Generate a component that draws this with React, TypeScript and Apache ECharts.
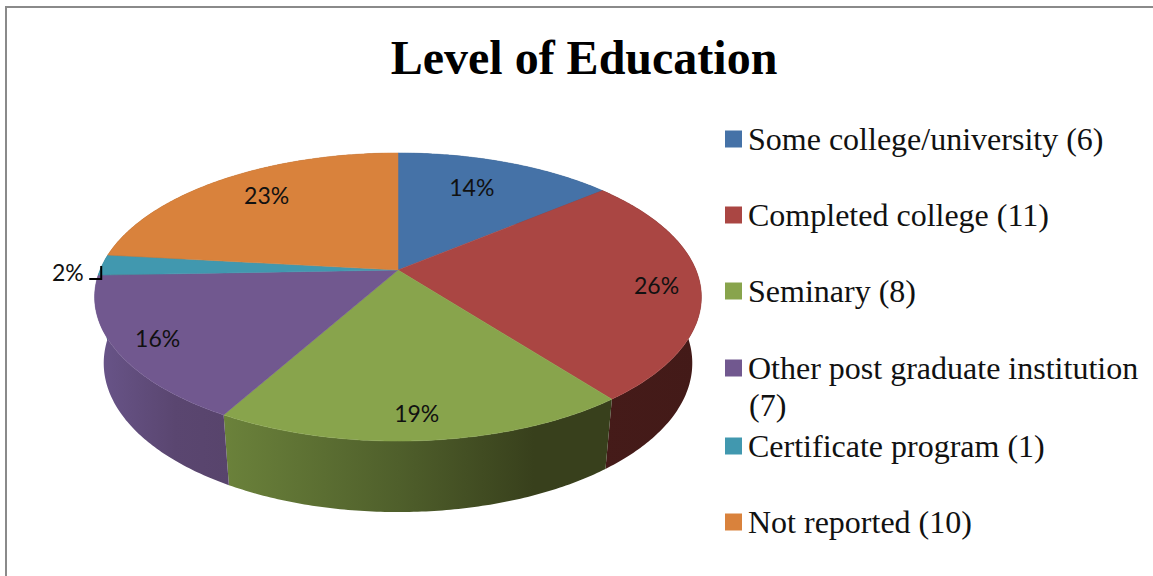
import React, { useEffect, useRef } from "react";
import * as echarts from "echarts";

const titleText = "Level of Education";
const categories = [
  "Some college/university (6)",
  "Completed college (11)",
  "Seminary (8)",
  "Other post graduate institution (7)",
  "Certificate program (1)",
  "Not reported (10)",
];
const values = [6, 11, 8, 7, 1, 10];
const percentLabels = ["14%", "26%", "19%", "16%", "2%", "23%"];

const colors = ["#4572A7", "#AA4643", "#88A44C", "#71588F", "#4198AF", "#D9823C"];
const wallStops: [number, string][][] = [
  [[0, "#2b4567"], [1, "#2b4567"]],
  [[0, "#451b19"], [1, "#431a18"]],
  [[0, "#6b823b"], [0.45, "#4f5f2b"], [0.8, "#38401c"], [1, "#38401c"]],
  [[0, "#69558a"], [0.6, "#5a4670"], [1, "#58446c"]],
  [[0, "#27606f"], [1, "#27606f"]],
  [[0, "#8a5226"], [1, "#8a5226"]],
];
// label placement in the pie's own polar terms: radius fraction, angle shift
const labelRadius = [0.725, 0.857, 0.865, 0.865, 1.105, 0.775];
const labelShift = [-2.5, 1, 0.7, 0, -2.9, 2.6];
const legendCentres = [138, 214, 290, 367, 445, 521];

const CX = 398, CY = 270, A = 298, B = 139, K = 0.1875, SHRINK = 0.97;
const total = values.reduce((a, b) => a + b, 0);
const starts: number[] = [];
values.reduce((acc, v, i) => {
  starts[i] = (acc / total) * 360;
  return acc + v;
}, 0);

const project = (deg: number, r = 1): [number, number] => {
  const t = (deg * Math.PI) / 180;
  const w = 1 + K * r * Math.cos(t);
  return [CX + (A * r * Math.sin(t)) / w, CY - (B * r * Math.cos(t)) / w];
};
const projectBottom = (deg: number): [number, number] => {
  const t = (deg * Math.PI) / 180;
  const [x, y] = project(deg);
  return [CX + (x - CX) * SHRINK, y + 65 - 6 * Math.cos(t)];
};
const arcAngles = (i: number) => {
  const from = starts[i];
  const span = (values[i] / total) * 360;
  const n = Math.ceil(span * 1.5);
  return Array.from({ length: n + 1 }, (_, k) => from + (span * k) / n);
};

const wallSeries = {
  type: "custom",
  name: "walls",
  coordinateSystem: "none",
  z: 1,
  silent: true,
  data: values.map((v) => [v]),
  renderItem: (params: any) => {
    const i = params.dataIndex;
    const angles = arcAngles(i);
    const pts = [
      ...angles.map((a) => project(a)),
      ...angles.slice().reverse().map((a) => projectBottom(a)),
    ];
    return {
      type: "polygon",
      shape: { points: pts },
      style: { fill: new echarts.graphic.LinearGradient(0, 0, 1, 0, wallStops[i].map(([offset, color]) => ({ offset, color }))) },
    };
  },
};

const topSeries = categories.map((name, i) => ({
  type: "custom",
  name,
  coordinateSystem: "none",
  z: 2,
  silent: true,
  itemStyle: { color: colors[i] },
  data: [[values[i]]],
  renderItem: () => {
    const pts = [[CX, CY], ...arcAngles(i).map((a) => project(a))];
    const mid = starts[i] + (values[i] / total) * 180;
    const [lx, ly] = project(mid + labelShift[i], labelRadius[i]);
    const children: any[] = [
      { type: "polygon", shape: { points: pts }, style: { fill: colors[i], stroke: colors[i], lineWidth: 0.5 } },
    ];
    if (labelRadius[i] > 1) {
      const [ax, ay] = project(mid);
      children.push({
        type: "polyline",
        z2: 5,
        shape: { points: [[ax - 1, ay + 1], [ax - 1, ay + 14], [ax - 13, ay + 14]] },
        style: { fill: "none", stroke: "#000", lineWidth: 2 },
      });
    }
    children.push({
      type: "text",
      z2: 6,
      x: lx,
      y: ly,
      style: {
        text: percentLabels[i],
        fill: "#111",
        font: '23px Lato, "Open Sans", sans-serif',
        textAlign: "center",
        textVerticalAlign: "middle",
      },
    });
    return { type: "group", children };
  },
}));

const FONT = '"Liberation Serif", "Times New Roman", serif';

export default function App() {
  const ref = useRef<HTMLDivElement>(null);
  useEffect(() => {
    const chart = echarts.init(ref.current!, undefined, { renderer: "svg" });
    chart.setOption({
      animation: false,
      backgroundColor: "#fff",
      title: {
        text: titleText,
        left: 579,
        top: 28,
        textAlign: "center",
        textStyle: { fontFamily: FONT, fontWeight: "bold", fontSize: 48, color: "#000" },
      },
      legend: categories.map((name, i) => ({
        data: [name],
        left: 725,
        top: legendCentres[i] - 15,
        orient: "vertical",
        icon: "rect",
        itemWidth: 17,
        itemHeight: 17,
        selectedMode: false,
        padding: 0,
        formatter: (n: string) => n.replace(" (7)", ""),
        textStyle: { fontFamily: FONT, fontSize: 32, color: "#111", lineHeight: 30, padding: [0, 0, 0, 1] },
      })),
      graphic: [
        { type: "polyline", silent: true, shape: { points: [[6, 580], [6, 7], [1160, 7]] }, style: { fill: "none", stroke: "#8a8a8a", lineWidth: 2 } },
        { type: "text", silent: true, x: 749, y: 405, style: { text: "(7)", fill: "#111", font: `32px ${FONT}`, textVerticalAlign: "middle" } },
      ],
      series: [wallSeries, ...topSeries],
    });
    return () => chart.dispose();
  }, []);
  return <div ref={ref} style={{ position: "fixed", left: 0, top: 0, width: 1153, height: 576 }} />;
}
